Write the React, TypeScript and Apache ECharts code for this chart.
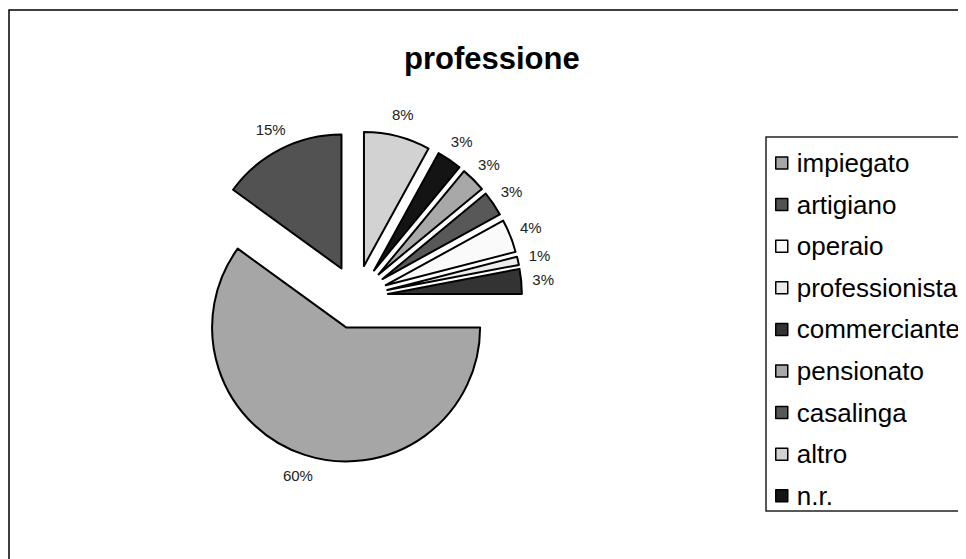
import React, { useEffect, useRef } from "react";
import * as echarts from "echarts";

const titleText = "professione";
// pie order (clockwise from 3 o'clock)
const sliceNames = ["impiegato", "artigiano", "altro", "n.r.", "pensionato", "casalinga", "operaio", "professionista", "commerciante"];
const sliceValues = [60, 15, 8, 3, 3, 3, 4, 1, 3];
const sliceColors = ["#a6a6a6", "#525252", "#d2d2d2", "#141414", "#a8a8a8", "#585858", "#fafafa", "#ececec", "#333333"];
const legendOrder = ["impiegato", "artigiano", "operaio", "professionista", "commerciante", "pensionato", "casalinga", "altro", "n.r."];

export default function App() {
  const ref = useRef<HTMLDivElement>(null);
  useEffect(() => {
    if (!ref.current) return;
    document.documentElement.style.overflow = "hidden";
    document.body.style.overflow = "hidden";
    const chart = echarts.init(ref.current, null, { renderer: "svg" });
    const font = "'Liberation Sans', Arial, sans-serif";
    chart.setOption({
      animation: false,
      backgroundColor: "#fff",
      title: {
        text: titleText,
        left: 391,
        top: 30,
        textStyle: { fontFamily: font, fontSize: 31, fontWeight: "bold", color: "#000" },
      },
      legend: {
        orient: "vertical",
        left: 762,
        top: 136,
        data: legendOrder,
        icon: "rect",
        itemWidth: 12,
        itemHeight: 12,
        itemGap: 13.6,
        selectedMode: false,
        itemStyle: { borderColor: "#000", borderWidth: 1.5 },
        textStyle: { fontFamily: font, fontSize: 26, color: "#000", lineHeight: 28, padding: [0, 0, 0, 4] },
      },
      graphic: [
        { type: "rect", shape: { x: 1, y: 2, width: 2000, height: 2000 }, style: { fill: "none", stroke: "#000", lineWidth: 1.5 }, silent: true },
        { type: "rect", shape: { x: 758, y: 129, width: 400, height: 374 }, style: { fill: "none", stroke: "#222", lineWidth: 1.5 }, silent: true },
      ],
      series: [
        {
          type: "pie",
          center: [348, 289],
          radius: 134,
          startAngle: 0,
          clockwise: true,
          selectedMode: "multiple",
          selectedOffset: 32,
          avoidLabelOverlap: false,
          label: {
            show: true,
            position: "outside",
            formatter: "{d}%",
            fontFamily: font,
            fontSize: 15,
            color: "#222",
            distanceToLabelLine: 0,
          },
          labelLine: { show: false, length: 22, length2: 0 },
          labelLayout: () => ({ align: "center", verticalAlign: "middle" }),
          emphasis: { disabled: true },
          itemStyle: { borderColor: "#000", borderWidth: 2 },
          data: sliceNames.map((n, i) => ({
            name: n,
            value: sliceValues[i],
            selected: true,
            itemStyle: { color: sliceColors[i] },
          })),
        },
      ],
    });
    return () => chart.dispose();
  }, []);
  return <div ref={ref} style={{ width: 1000, height: 580 }} />;
}
